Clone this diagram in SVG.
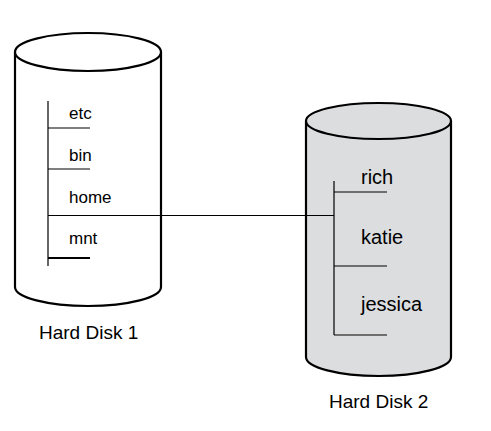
<svg xmlns="http://www.w3.org/2000/svg" width="491" height="431" viewBox="0 0 491 431">
<style>
.cyl{stroke:#000;stroke-width:2.2}
.d1{fill:#fff}
.d2{fill:#dcdddf}
.tree{stroke:#000;stroke-width:1.2;fill:none}
.t{font-family:"Liberation Sans",Arial,sans-serif;fill:#000}
.s1{font-size:17px}
.s2{font-size:20px}
.cap{font-size:19px}
</style>
<rect width="491" height="431" fill="#fff"/>
<g id="disk1">
<path class="cyl d1" d="M15,52 L15,287 A73,19 0 0 0 161,287 L161,52"/>
<ellipse class="cyl d1" cx="88" cy="52" rx="73" ry="19"/>
<g id="disk1-tree">
<path class="tree" d="M48,101 V266 M48,128 H90 M48,169 H90"/>
<path d="M48,258 H90" stroke="#000" stroke-width="2"/>
<text class="t s1" x="69" y="119">etc</text>
<text class="t s1" x="69" y="161">bin</text>
<text class="t s1" x="69" y="203">home</text>
<text class="t s1" x="69" y="244">mnt</text>
</g>
<text class="t cap" x="39" y="339">Hard Disk 1</text>
</g>
<g id="disk2">
<path class="cyl d2" d="M306,121 L306,357 A72.5,19 0 0 0 451,357 L451,121"/>
<ellipse class="cyl d2" cx="378.5" cy="121" rx="72.5" ry="18"/>
<g id="disk2-tree">
<path class="tree" d="M334,181 V335 M334,192 H387 M334,266 H387 M334,335 H387"/>
<text class="t s2" x="361" y="184">rich</text>
<text class="t s2" x="361" y="244">katie</text>
<text class="t s2" x="361" y="311">jessica</text>
</g>
<text class="t cap" x="329" y="408">Hard Disk 2</text>
</g>
<g id="connectors">
<path class="tree" d="M48,215.5 H334"/>
</g>
</svg>
